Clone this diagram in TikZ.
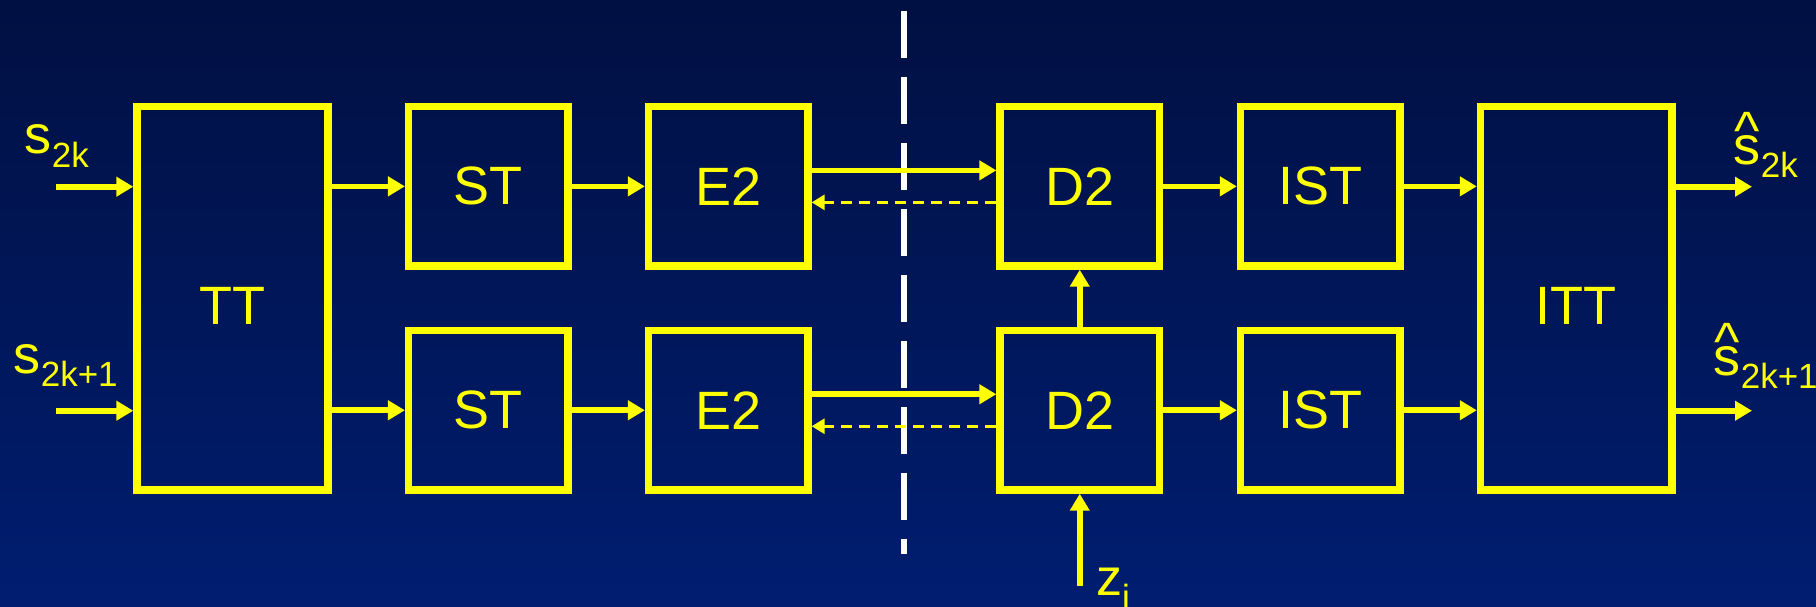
\documentclass[tikz,border=0pt]{standalone}
\usepackage{fontspec}
\setmainfont{Liberation Sans}
\usetikzlibrary{arrows.meta,calc}
\definecolor{bgtop}{RGB}{1,16,66}
\definecolor{bgbot}{RGB}{0,29,112}
\definecolor{ylw}{RGB}{255,255,0}
\tikzset{
  blk/.style={draw=ylw, line width=3.7pt, rectangle, inner sep=0pt, outer sep=auto, text=ylw,
     font=\fontsize{27}{30}\selectfont},
  conn/.style={draw=ylw, line width=2.8pt, -{Triangle[length=8.5pt,width=9.5pt]}},
  fb/.style={draw=ylw, line width=1.5pt, dash pattern=on 5.5pt off 3.5pt, -{Triangle[length=6.5pt,width=7.5pt]}},
  sepline/.style={draw=white, line width=3pt, dash pattern=on 23.8pt off 9.2pt},
  txt/.style={text=ylw, inner sep=0pt, anchor=base west},
  ctxt/.style={text=ylw, inner sep=0pt, font=\fontsize{27}{30}\selectfont}
}
\newcommand{\mainsz}{\fontsize{27}{30}\selectfont}
\newcommand{\subsz}{\fontsize{17.5}{20}\selectfont}
\begin{document}
\begin{tikzpicture}[x=0.5pt,y=-0.5pt]
\useasboundingbox (0,0) rectangle (1816,606);
\shade[top color=bgtop, bottom color=bgbot] (0,0) rectangle (1816,606);

% separator
\coordinate (sepTop) at (904,10.7);
\coordinate (sepBot) at (904,553.6);
\draw[sepline] (sepTop) -- (sepBot);

% blocks
\node[blk, minimum width=95.5pt, minimum height=191.65pt] (TT) at (232.5,298.35) {};
\node[ctxt] (TTl) at (232.5,306) {TT};
\node[blk, minimum width=79.7pt, minimum height=79.65pt] (ST1) at (488.35,186.35) {ST};
\node[blk, minimum width=79.7pt, minimum height=79.75pt] (ST2) at (488.35,410.25) {ST};
\node[blk, minimum width=79.7pt, minimum height=79.65pt] (E1) at (728.25,186.35) {E2};
\node[blk, minimum width=79.7pt, minimum height=79.75pt] (E2b) at (728.25,410.25) {E2};
\node[blk, minimum width=79.7pt, minimum height=79.65pt] (D1) at (1079.75,186.35) {D2};
\node[blk, minimum width=79.7pt, minimum height=79.75pt] (D2b) at (1079.75,410.25) {D2};
\node[blk, minimum width=79.7pt, minimum height=79.65pt] (IST1) at (1320.25,186.35) {IST};
\node[blk, minimum width=79.7pt, minimum height=79.75pt] (IST2) at (1320.25,410.25) {IST};
\node[blk, minimum width=95.75pt, minimum height=191.65pt] (ITT) at (1576.25,298.35) {};
\node[ctxt] (ITTl) at (1576.25,306) {ITT};

% inputs
\coordinate (in1) at (56,186.7);
\coordinate (in2) at (56,410.7);
\draw[conn] (in1) -- (in1 -| TT.west);
\draw[conn] (in2) -- (in2 -| TT.west);

% TT -> ST
\draw[conn] (TT.east |- ST1.west) -- (ST1.west);
\draw[conn] (TT.east |- ST2.west) -- (ST2.west);
% ST -> E2
\draw[conn] (ST1) -- (E1);
\draw[conn] (ST2) -- (E2b);
% E2 -> D2 and feedback
\draw[conn] ($(E1.east)+(0,-16)$) -- ($(D1.west)+(0,-16)$);
\draw[fb] ($(D1.west)+(0,16)$) -- ($(E1.east)+(0,16)$);
\draw[conn] ($(E2b.east)+(0,-16)$) -- ($(D2b.west)+(0,-16)$);
\draw[fb] ($(D2b.west)+(0,16)$) -- ($(E2b.east)+(0,16)$);
% D2 -> D2
\draw[conn] (D2b.north) -- (D1.south);
% zi
\coordinate (zin) at (1079.75,586);
\draw[conn] (zin) -- (D2b.south);
% D2 -> IST
\draw[conn] (D1) -- (IST1);
\draw[conn] (D2b) -- (IST2);
% IST -> ITT
\draw[conn] (IST1.east) -- (IST1.east -| ITT.west);
\draw[conn] (IST2.east) -- (IST2.east -| ITT.west);
% outputs
\coordinate (out1) at (1752,186.7);
\coordinate (out2) at (1752,410.7);
\draw[conn] (out1 -| ITT.east) -- (out1);
\draw[conn] (out2 -| ITT.east) -- (out2);

% labels
\node[txt] (ls1) at (24.4,153.3) {\mainsz s\raisebox{-7pt}{\subsz 2k}};
\node[txt] (ls2) at (13.4,373.3) {\mainsz s\raisebox{-6.4pt}{\subsz 2k+1}};
\node[txt] (h1) at (1734,149.1) {\mainsz\symbol{94}};
\node[txt] (ls3) at (1733.4,164) {\mainsz s\raisebox{-6.6pt}{\subsz 2k}};
\node[txt] (h2) at (1714,360.4) {\mainsz\symbol{94}};
\node[txt] (ls4) at (1713.4,375) {\mainsz s\raisebox{-6.6pt}{\subsz 2k+1}};
\node[txt] (lz) at (1095.6,595) {\fontsize{26}{30}\selectfont z\raisebox{-7pt}{\subsz i}};
\end{tikzpicture}
\end{document}
